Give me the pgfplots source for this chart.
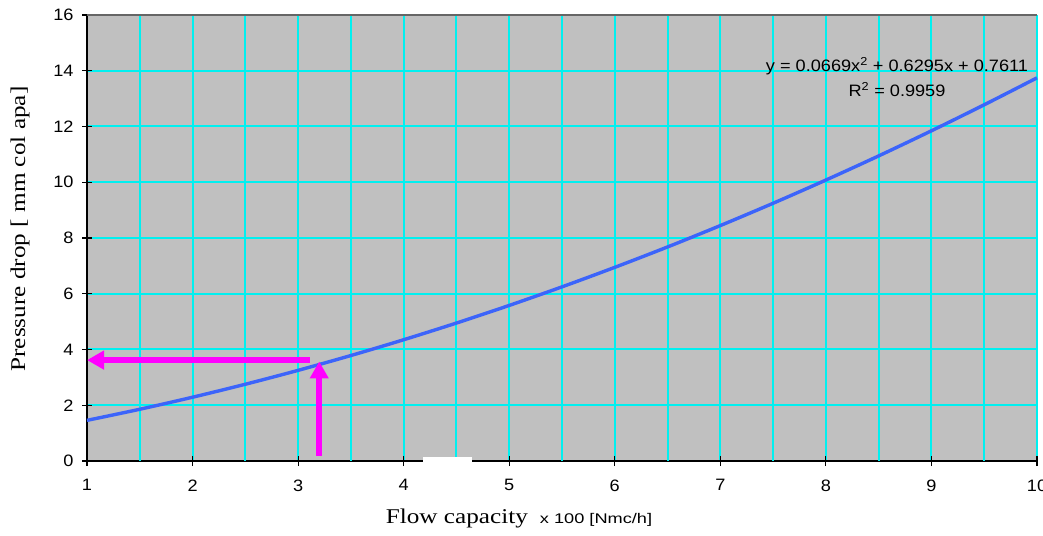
\documentclass[border=0pt]{standalone}
\usepackage{fontspec}
\setmainfont{Liberation Sans}[FakeStretch=1.1]
\newfontfamily\serifx{Liberation Serif}[FakeStretch=1.2]
\newfontfamily\sansw{Liberation Sans}[FakeStretch=1.3]
\usepackage{pgfplots}
\pgfplotsset{compat=1.18}
\usetikzlibrary{arrows.meta}
\definecolor{bggray}{RGB}{192,192,192}
\definecolor{gridcyan}{RGB}{0,240,240}
\definecolor{curveblue}{RGB}{60,100,250}
\definecolor{arrowmag}{RGB}{255,0,255}
\begin{document}
\begin{tikzpicture}[x=1pt,y=1pt]
\path[use as bounding box] (0,0) rectangle (1043,535);
\begin{axis}[at={(87pt,74pt)}, anchor=south west, scale only axis,
  width=950pt, height=446pt,
  xmin=1, xmax=10, ymin=0, ymax=16,
  xtick={1,...,10}, ytick={0,2,...,16},
  minor tick num=0,
  extra x ticks={1.5,2.5,3.5,4.5,5.5,6.5,7.5,8.5,9.5},
  extra x tick style={grid=major, major tick length=0pt, xticklabels={}},
  xmajorgrids, ymajorgrids, xminorgrids=false, yminorgrids=false,
  major grid style={gridcyan, line width=2pt},
  axis background/.style={fill=bggray},
  axis x line*=bottom, axis y line*=left,
  axis line style={black, line width=1.4pt},
  tick style={black, line width=1.2pt},
  major tick length=10pt,
  tick align=center,
  tick label style={font=\fontsize{16.5}{18}\selectfont},
  xticklabel shift=10pt,
  yticklabel shift=5pt,
  /pgf/number format/assume math mode=true,
  clip=false,
]
\addplot[curveblue, line width=3.4pt, smooth] coordinates {
(1,1.458) (1.5,1.856) (2,2.288) (2.5,2.753) (3,3.252) (3.5,3.784)
(4,4.350) (4.5,4.949) (5,5.581) (5.5,6.247) (6,6.947) (6.5,7.679)
(7,8.446) (7.5,9.246) (8,10.079) (8.5,10.945) (9,11.846) (9.5,12.779)
(10,13.746)};
\addplot[arrowmag, line width=5.5pt, -{Triangle[length=17pt, width=18pt]}]
  coordinates {(3.11,3.62) (1.0,3.62)};
\addplot[arrowmag, line width=5.5pt, -{Triangle[length=17pt, width=18pt]}]
  coordinates {(3.2,0.18) (3.2,3.57)};
\draw[gray!80!black, line width=1.2pt] (rel axis cs:0,1) -- (rel axis cs:1,1);
\fill[white] (axis cs:4.18,-0.6) rectangle (axis cs:4.65,0.13);
\end{axis}
\node[align=center, font=\fontsize{16.5}{25}\selectfont] at (897,458)
  {y = 0.0669x\textsuperscript{2} + 0.6295x + 0.7611\\R\textsuperscript{2} = 0.9959};
\node[rotate=90, font=\serifx\fontsize{21}{24}\selectfont] at (20,306)
  {Pressure drop [ mm col apa]};
\node[anchor=base, inner sep=0pt] at (519,12)
  {{\serifx\fontsize{21}{24}\selectfont Flow capacity}\hspace{12pt}{\sansw\fontsize{14}{16}\selectfont x 100 [Nmc/h]}};
\end{tikzpicture}
\end{document}
